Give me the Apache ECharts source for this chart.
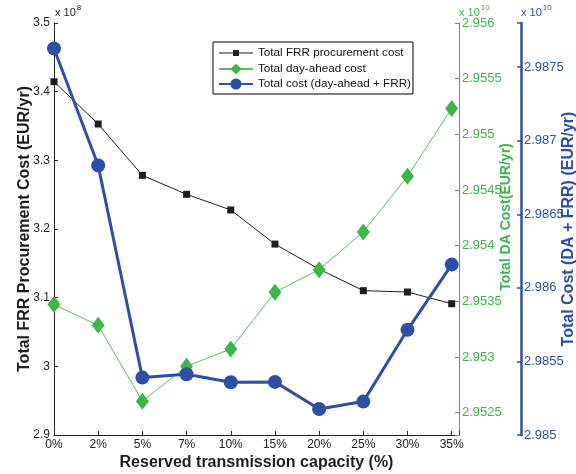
<!DOCTYPE html>
<html>
<head>
<meta charset="utf-8">
<script src="https://cdn.jsdelivr.net/npm/echarts@6/dist/echarts.min.js"></script>
<style>
  html, body { margin: 0; padding: 0; background: #fff; }
  #chart { width: 576px; height: 474px; }
</style>
</head>
<body>
<div id="chart"></div>
<script>
// Reserved transmission capacity scenarios
var categories = ['0%', '2%', '5%', '7%', '10%', '15%', '20%', '25%', '30%', '35%'];

// Total FRR procurement cost (x 10^8 EUR/yr)
var frrCost = [3.4145, 3.3529, 3.2781, 3.2505, 3.2277, 3.1780, 3.1415, 3.1102, 3.1082, 3.0912];

// Total day-ahead cost (x 10^10 EUR/yr)
var daCost = [2.953471, 2.953285, 2.952603, 2.952917, 2.953073, 2.953582, 2.953785, 2.954124, 2.954623, 2.955233];

// Total cost, day-ahead + FRR (x 10^10 EUR/yr)
var totalCost = [2.987627, 2.986832, 2.985390, 2.985413, 2.985359, 2.985361, 2.985177, 2.985227, 2.985715, 2.986158];

// Axis ranges
var frrTicks = { min: 2.9, max: 3.5, step: 0.1 };
var daTicks = { min: 2.9523, max: 2.956, step: 0.0005 };
var totalTicks = { min: 2.985, max: 2.9878, step: 0.0005 };

var FONT = '"Liberation Sans", Arial, Helvetica, sans-serif';
var BLACK = '#1e1e1e';
var GREEN = '#3db54a';
var GREEN_LINE = '#55c255';
var BLUE = '#2f4ea6';

function pairs(values) {
  return values.map(function (v, i) { return [i, v]; });
}

function onStep(v, step) {
  var r = v / step;
  return Math.abs(r - Math.round(r)) < 1e-6;
}

// Legend glyph for the FRR series: thin line with a small square marker
var frrLegendIcon = 'path://M0,0L0,0M0,6.5L34,6.5L34,7.5L0,7.5ZM14,4L20,4L20,10L14,10ZM34,14L34,14';

var chart = echarts.init(document.getElementById('chart'), null, { renderer: 'canvas' });

chart.setOption({
  animation: false,
  backgroundColor: '#ffffff',
  textStyle: { fontFamily: FONT },
  grid: { left: 54, right: 117, top: 23, bottom: 39, containLabel: false, outerBoundsMode: 'none' },
  legend: {
    orient: 'vertical',
    left: 213,
    top: 42,
    padding: [4, 2, 4, 5],
    itemWidth: 34,
    itemHeight: 14,
    itemGap: 3,
    symbolKeepAspect: true,
    backgroundColor: '#ffffff',
    borderColor: '#000000',
    borderWidth: 1,
    borderRadius: 0,
    textStyle: { fontFamily: FONT, fontSize: 11.7, color: '#111' },
    data: [
      { name: 'Total FRR procurement cost', icon: frrLegendIcon },
      { name: 'Total day-ahead cost' },
      { name: 'Total cost (day-ahead + FRR)' }
    ]
  },
  xAxis: {
    type: 'value',
    min: 0,
    max: 9.165,
    interval: 1,
    name: 'Reserved transmission capacity (%)',
    nameLocation: 'middle',
    nameGap: 20,
    nameMoveOverlap: false,
    nameTextStyle: { fontFamily: FONT, fontSize: 16, fontWeight: 'bold', color: BLACK },
    axisLine: { show: true, lineStyle: { color: '#222', width: 1 } },
    axisTick: { show: true, inside: true, length: 4, lineStyle: { color: '#222' } },
    axisLabel: {
      fontFamily: FONT, fontSize: 12, color: '#222', margin: 4,
      formatter: function (v) {
        return onStep(v, 1) && categories[Math.round(v)] !== undefined ? categories[Math.round(v)] : '';
      }
    },
    splitLine: { show: false }
  },
  yAxis: [
    {
      type: 'value',
      position: 'left',
      min: frrTicks.min,
      max: frrTicks.max,
      interval: frrTicks.step,
      name: 'Total FRR Procurement Cost (EUR/yr)',
      nameLocation: 'middle',
      nameRotate: 90,
      nameGap: 21,
      nameMoveOverlap: false,
      nameTextStyle: { fontFamily: FONT, fontSize: 16, fontWeight: 'bold', color: BLACK },
      axisLine: { show: true, lineStyle: { color: '#222', width: 1 } },
      axisTick: { show: true, inside: true, length: 4, lineStyle: { color: '#222' } },
      axisLabel: { fontFamily: FONT, fontSize: 12, color: '#222', margin: 4 },
      splitLine: { show: false }
    },
    {
      type: 'value',
      position: 'right',
      offset: 0,
      min: daTicks.min,
      max: daTicks.max,
      splitNumber: 7,
      name: 'Total DA Cost(EUR/yr)',
      nameLocation: 'middle',
      nameRotate: 90,
      nameGap: 40,
      nameMoveOverlap: false,
      nameTextStyle: {
        fontFamily: FONT, fontSize: 14, fontWeight: 'bold', color: GREEN,
        padding: [0, 0, 0, 24]
      },
      axisLine: { show: true, lineStyle: { color: GREEN, width: 1 } },
      axisTick: { show: true, inside: true, length: 4, lineStyle: { color: GREEN } },
      axisLabel: {
        fontFamily: FONT, fontSize: 13, color: GREEN, margin: 3,
        formatter: function (v) { return onStep(v, daTicks.step) ? String(+v.toFixed(4)) : ''; }
      },
      splitLine: { show: false }
    },
    {
      type: 'value',
      position: 'right',
      offset: 62,
      min: totalTicks.min,
      max: totalTicks.max,
      interval: totalTicks.step,
      name: 'Total Cost (DA + FRR) (EUR/yr)',
      nameLocation: 'middle',
      nameRotate: 90,
      nameGap: 40,
      nameMoveOverlap: false,
      nameTextStyle: { fontFamily: FONT, fontSize: 16, fontWeight: 'bold', color: BLUE },
      axisLine: { show: true, lineStyle: { color: BLUE, width: 2.5 } },
      axisTick: { show: true, inside: true, length: 4, lineStyle: { color: BLUE, width: 1.5 } },
      axisLabel: {
        fontFamily: FONT, fontSize: 13, color: BLUE, margin: 3,
        formatter: function (v) { return onStep(v, totalTicks.step) ? String(+v.toFixed(4)) : ''; }
      },
      splitLine: { show: false }
    }
  ],
  graphic: [
    {
      type: 'text', left: 55, top: 4,
      style: {
        text: '{a|x 10}{s|8}',
        rich: {
          a: { fontFamily: FONT, fontSize: 11, fill: '#222', padding: [6, 0, 0, 0] },
          s: { fontFamily: FONT, fontSize: 8, fill: '#222', padding: [0, 0, 4, 1] }
        }
      }
    },
    {
      type: 'text', left: 459, top: 4,
      style: {
        text: '{a|x 10}{s|10}',
        rich: {
          a: { fontFamily: FONT, fontSize: 11, fill: GREEN, padding: [6, 0, 0, 0] },
          s: { fontFamily: FONT, fontSize: 8, fill: GREEN, padding: [0, 0, 4, 1] }
        }
      }
    },
    {
      type: 'text', left: 521, top: 4,
      style: {
        text: '{a|x 10}{s|10}',
        rich: {
          a: { fontFamily: FONT, fontSize: 11, fill: BLUE, padding: [6, 0, 0, 0] },
          s: { fontFamily: FONT, fontSize: 8, fill: BLUE, padding: [0, 0, 4, 1] }
        }
      }
    }
  ],
  series: [
    {
      name: 'Total FRR procurement cost',
      type: 'line',
      yAxisIndex: 0,
      data: pairs(frrCost),
      symbol: 'rect',
      symbolSize: 7,
      lineStyle: { color: BLACK, width: 1 },
      itemStyle: { color: BLACK },
      z: 2
    },
    {
      name: 'Total day-ahead cost',
      type: 'line',
      yAxisIndex: 1,
      data: pairs(daCost),
      symbol: 'diamond',
      symbolSize: [13, 17],
      lineStyle: { color: GREEN_LINE, width: 1 },
      itemStyle: { color: GREEN },
      z: 3
    },
    {
      name: 'Total cost (day-ahead + FRR)',
      type: 'line',
      yAxisIndex: 2,
      data: pairs(totalCost),
      symbol: 'circle',
      symbolSize: 14,
      lineStyle: { color: BLUE, width: 3 },
      itemStyle: { color: BLUE },
      z: 4
    }
  ]
});
</script>
</body>
</html>
